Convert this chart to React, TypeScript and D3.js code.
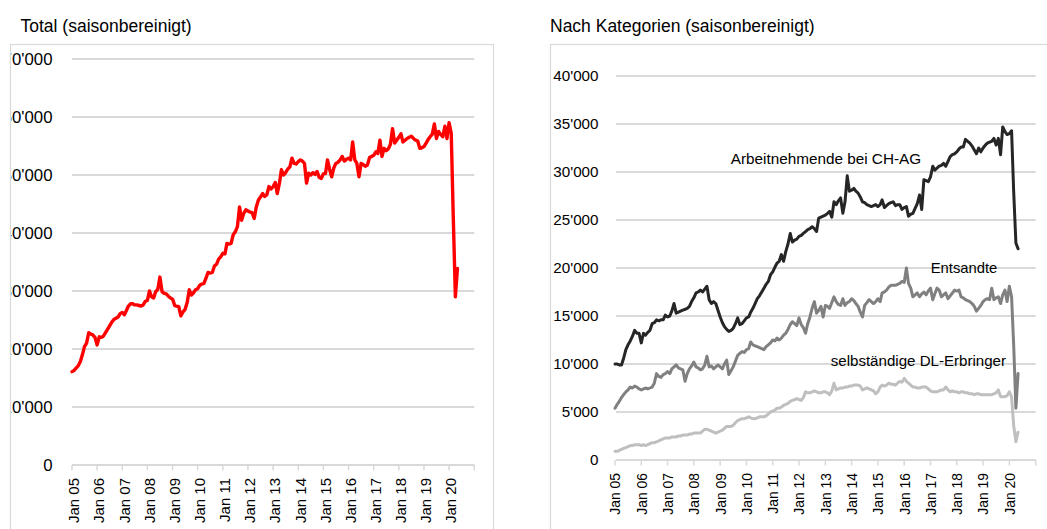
import React from 'react';
import * as d3 from 'd3';

// Monthly values (thousands), Jan 2005 .. May 2020
const totalK = [
  16.1,16.3,16.7,17.1,17.8,19.0,20.4,21.0,22.8,22.6,22.4,22.0,
  20.7,22.1,22.0,22.2,22.8,23.4,24.0,24.6,25.1,25.3,25.5,26.1,
  26.3,25.9,26.6,27.4,27.8,27.8,27.6,27.6,27.5,27.4,27.6,28.2,
  28.4,30.0,29.0,28.8,29.9,30.3,32.4,29.9,29.6,29.5,29.1,28.8,
  28.6,27.5,27.4,27.3,25.7,26.4,26.8,28.0,30.2,29.3,29.7,30.2,
  30.4,31.0,31.2,31.3,32.2,33.2,33.1,33.2,34.3,34.6,35.5,35.9,
  36.5,36.4,38.2,38.1,38.2,39.7,40.2,41.1,44.5,42.2,43.4,44.0,
  43.8,43.6,43.5,42.5,44.5,45.7,46.2,46.8,46.3,46.6,48.0,47.6,
  48.0,48.7,46.8,48.5,50.9,50.0,50.4,51.0,51.4,52.9,52.0,51.9,
  52.3,52.6,52.4,52.0,48.6,50.3,50.0,50.4,50.1,50.6,49.6,49.4,
  50.2,50.3,52.6,51.0,49.7,51.2,52.0,52.2,52.6,53.2,52.4,52.7,
  52.9,52.6,55.7,52.6,52.0,49.7,52.0,51.8,51.5,51.7,53.0,53.2,
  53.4,54.0,53.7,56.0,53.2,54.6,54.2,54.5,55.3,58.0,55.5,56.0,
  56.5,57.1,55.7,56.0,56.3,56.5,56.7,56.3,56.0,55.9,54.6,54.7,
  54.9,55.5,56.1,56.6,57.0,58.8,56.3,57.5,57.0,56.6,58.4,56.3,
  59.0,57.2,43.0,29.0,33.9,
];

const arbeitnehmendeK = [
  10.0,10.0,9.9,9.9,10.6,11.5,12.0,12.4,12.9,13.5,13.2,13.2,
  12.2,13.2,13.0,13.3,13.5,14.2,14.3,14.6,14.5,14.6,14.6,15.1,
  14.9,15.0,15.5,16.3,15.3,15.4,15.5,15.6,15.7,15.8,16.0,16.5,
  16.9,17.4,17.5,17.7,17.5,17.8,18.1,16.7,16.3,16.5,16.3,15.6,
  14.9,14.3,13.9,13.6,13.4,13.5,13.7,14.2,14.8,14.1,14.2,14.5,
  14.8,14.9,15.4,15.8,16.3,16.8,17.1,17.5,17.9,18.3,18.6,19.3,
  19.6,20.1,20.5,20.7,21.4,20.7,21.7,22.5,23.6,22.7,22.9,23.0,
  23.3,23.4,23.6,23.8,24.0,24.1,24.3,24.1,23.8,25.2,25.3,25.4,
  25.5,25.7,25.9,25.3,26.9,26.6,27.0,27.3,25.7,26.9,29.6,28.0,
  28.1,28.3,28.0,27.8,27.4,26.9,26.8,26.6,26.5,26.4,26.5,26.6,
  26.4,26.6,27.1,26.3,26.5,26.7,26.8,26.9,26.5,26.6,26.6,26.1,
  26.3,26.4,25.4,25.6,25.7,26.2,26.7,27.6,26.1,29.2,29.1,29.0,
  29.5,30.6,30.2,30.4,30.6,30.7,30.9,30.6,31.1,31.6,31.8,31.9,
  32.1,32.4,32.6,32.6,33.4,33.2,33.0,32.7,32.3,31.9,32.5,32.1,
  32.5,32.8,33.0,33.1,33.2,33.5,32.8,33.5,31.8,34.7,34.2,33.9,
  34.0,34.3,28.0,22.6,22.0,
];

const entsandteK = [
  5.4,5.8,6.1,6.5,6.8,7.1,7.3,7.6,7.5,7.7,7.6,7.4,
  7.3,7.4,7.5,7.4,7.5,7.6,8.0,9.0,8.7,8.6,8.9,9.0,
  9.2,9.0,9.5,9.7,9.9,9.6,9.5,9.4,8.2,9.0,9.5,9.8,
  10.2,9.7,9.6,9.4,9.5,9.9,10.8,9.7,9.8,9.5,9.7,9.9,
  9.7,9.5,10.0,10.4,8.9,9.3,9.7,10.3,10.9,11.1,11.3,11.2,
  11.5,11.6,12.3,12.0,11.9,11.8,11.7,11.6,11.5,11.8,12.0,12.2,
  12.5,12.4,12.7,12.5,12.7,13.0,13.2,13.6,14.1,14.4,14.2,14.0,
  14.8,14.1,13.8,13.2,14.2,14.9,15.8,16.5,15.3,15.6,16.0,14.9,
  16.1,16.0,15.8,16.4,17.0,16.5,16.2,16.1,16.8,16.1,16.4,16.5,
  16.8,16.6,16.3,16.0,15.4,14.9,16.1,16.4,16.7,16.5,16.3,16.5,
  16.8,16.5,17.4,17.5,17.7,18.0,18.2,18.2,18.2,18.3,18.4,18.6,
  18.5,20.0,18.4,17.9,17.0,17.2,17.4,17.0,17.3,17.5,17.2,17.6,
  17.9,16.7,17.3,17.9,17.7,17.0,17.2,17.4,16.8,17.1,17.4,17.7,
  17.6,17.7,17.0,16.9,16.7,16.6,16.5,16.3,16.0,15.5,15.8,16.1,
  16.5,16.7,16.8,16.7,17.9,16.7,16.9,17.0,16.3,17.2,17.7,16.5,
  18.1,17.0,12.0,5.4,9.0,
];

const selbstaendigeK = [
  0.9,0.9,1.0,1.1,1.2,1.3,1.4,1.5,1.5,1.6,1.6,1.6,
  1.5,1.6,1.5,1.6,1.7,1.8,1.8,1.9,2.0,2.1,2.2,2.3,
  2.3,2.3,2.4,2.4,2.4,2.5,2.5,2.6,2.6,2.6,2.7,2.7,
  2.8,2.8,2.8,2.8,3.0,3.2,3.2,3.1,3.0,2.9,2.8,2.9,
  3.0,3.1,3.3,3.5,3.5,3.5,3.6,3.9,4.1,4.2,4.3,4.3,
  4.4,4.5,4.4,4.3,4.3,4.4,4.5,4.5,4.5,4.6,4.8,5.0,
  5.1,5.2,5.4,5.4,5.5,5.7,5.8,5.9,6.1,6.2,6.3,6.4,
  6.3,6.2,6.5,7.1,7.0,7.0,7.1,7.2,7.1,7.0,7.0,7.1,
  7.1,7.0,6.8,7.2,8.0,7.3,7.4,7.5,7.5,7.6,7.6,7.7,
  7.7,7.8,7.8,7.8,7.7,7.3,7.4,7.5,7.4,7.3,7.2,6.9,
  7.1,7.6,7.8,7.7,7.8,8.0,7.9,7.9,7.8,8.0,8.2,8.1,
  8.5,8.2,8.0,7.8,7.6,7.6,7.5,7.5,7.6,7.6,7.6,7.4,
  7.2,7.1,7.1,7.1,7.2,7.3,7.3,7.6,7.3,7.1,7.2,7.1,
  7.1,7.0,7.1,7.1,7.0,7.0,6.9,6.9,6.8,6.9,6.9,6.8,
  6.8,6.8,6.8,6.8,6.8,6.9,7.0,7.3,6.6,6.6,6.6,6.7,
  7.1,6.6,3.6,1.9,2.9,
];

const tickYears = ['05','06','07','08','09','10','11','12','13','14','15','16','17','18','19','20'];
const leftYTicks = [0, 10000, 20000, 30000, 40000, 50000, 60000, 70000];
const rightYTicks = [0, 5000, 10000, 15000, 20000, 25000, 30000, 35000, 40000];

const FONT = '"Liberation Sans", Arial, Helvetica, sans-serif';
const GRID = '#d9d9d9';

const dateOf = (i: number) => new Date(2005, i, 1);
const fmtNum = (v: number) => (v === 0 ? '0' : d3.format(',')(v).replace(/,/g, "'"));
const tickDates = d3.range(0, 17).map((k) => new Date(2005 + k, 0, 1));

function Panel(props: {
  x0: number; x1: number; yTop: number; yBottom: number; yMax: number; yTicks: number[];
  gridX0: number; labelX: number; yFont: number; xFont: number; xLabelDx: number;
  series: { data: number[]; color: string; width: number }[];
}) {
  const { x0, x1, yTop, yBottom, yMax, yTicks, gridX0, labelX, yFont, xFont, xLabelDx, series } = props;
  const x = d3.scaleTime().domain([new Date(2005, 0, 1), new Date(2021, 0, 1)]).range([x0, x1]);
  const y = d3.scaleLinear().domain([0, yMax]).range([yBottom, yTop]);
  const line = d3
    .line<number>()
    .x((_, i) => x(dateOf(i)))
    .y((d) => y(d * 1000));
  return (
    <g>
      {yTicks.map((t) => (
        <g key={t}>
          <line x1={gridX0} x2={x1} y1={y(t)} y2={y(t)} stroke={GRID} strokeWidth={1.8} />
          <text x={labelX} y={y(t)} dy="0.36em" textAnchor="end" fontSize={yFont} fontFamily={FONT} fill="#000">
            {fmtNum(t)}
          </text>
        </g>
      ))}
      {tickDates.map((d, k) => (
        <line key={k} x1={x(d)} x2={x(d)} y1={yBottom} y2={yBottom + 5.5} stroke={GRID} strokeWidth={1.5} />
      ))}
      {tickYears.map((yy, k) => (
        <text
          key={yy}
          transform={`translate(${x(tickDates[k]) + xLabelDx},${yBottom + 13}) rotate(-90)`}
          textAnchor="end"
          dy="0.35em"
          fontSize={xFont}
          fontFamily={FONT}
          fill="#000"
        >
          {`Jan ${yy}`}
        </text>
      ))}
      {series.map((s, k) => (
        <path key={k} d={line(s.data) || ''} fill="none" stroke={s.color} strokeWidth={s.width} strokeLinejoin="round" strokeLinecap="round" />
      ))}
    </g>
  );
}

export default function App() {
  return (
    <svg width={1047} height={529} style={{ position: 'absolute', left: 0, top: 0, background: '#fff' }}>
      <defs>
        <clipPath id="leftClip">
          <rect x={11.2} y={0} width={490} height={529} />
        </clipPath>
      </defs>
      <rect x={0} y={0} width={1047} height={529} fill="#fff" />
      <text x={20.5} y={31.5} fontSize={17.5} fontFamily={FONT} fill="#000">Total (saisonbereinigt)</text>
      <text x={550} y={31.5} fontSize={17.5} fontFamily={FONT} fill="#000">Nach Kategorien (saisonbereinigt)</text>

      <rect x={10.5} y={44.5} width={483} height={600} fill="none" stroke={GRID} strokeWidth={1.2} />
      <rect x={550.5} y={44.5} width={600} height={600} fill="none" stroke={GRID} strokeWidth={1.2} />

      <g clipPath="url(#leftClip)">
        <Panel
          x0={72} x1={474.3} yTop={59} yBottom={465} yMax={70000} yTicks={leftYTicks}
          gridX0={72} labelX={52.5} yFont={16.8} xFont={15} xLabelDx={2}
          series={[{ data: totalK, color: '#ff0000', width: 3.4 }]}
        />
      </g>

      <Panel
        x0={615} x1={1035.7} yTop={76} yBottom={460} yMax={40000} yTicks={rightYTicks}
        gridX0={616} labelX={598.5} yFont={15.2} xFont={13.9} xLabelDx={0.5}
        series={[
          { data: selbstaendigeK, color: '#bfbfbf', width: 3 },
          { data: entsandteK, color: '#808080', width: 3 },
          { data: arbeitnehmendeK, color: '#262626', width: 3 },
        ]}
      />

      <text x={730.7} y={164} fontSize={15.3} fontFamily={FONT} fill="#000">Arbeitnehmende bei CH-AG</text>
      <text x={930.7} y={272.5} fontSize={14.8} fontFamily={FONT} fill="#000">Entsandte</text>
      <text x={830.7} y={366} fontSize={15.1} fontFamily={FONT} fill="#000">selbständige DL-Erbringer</text>
    </svg>
  );
}
